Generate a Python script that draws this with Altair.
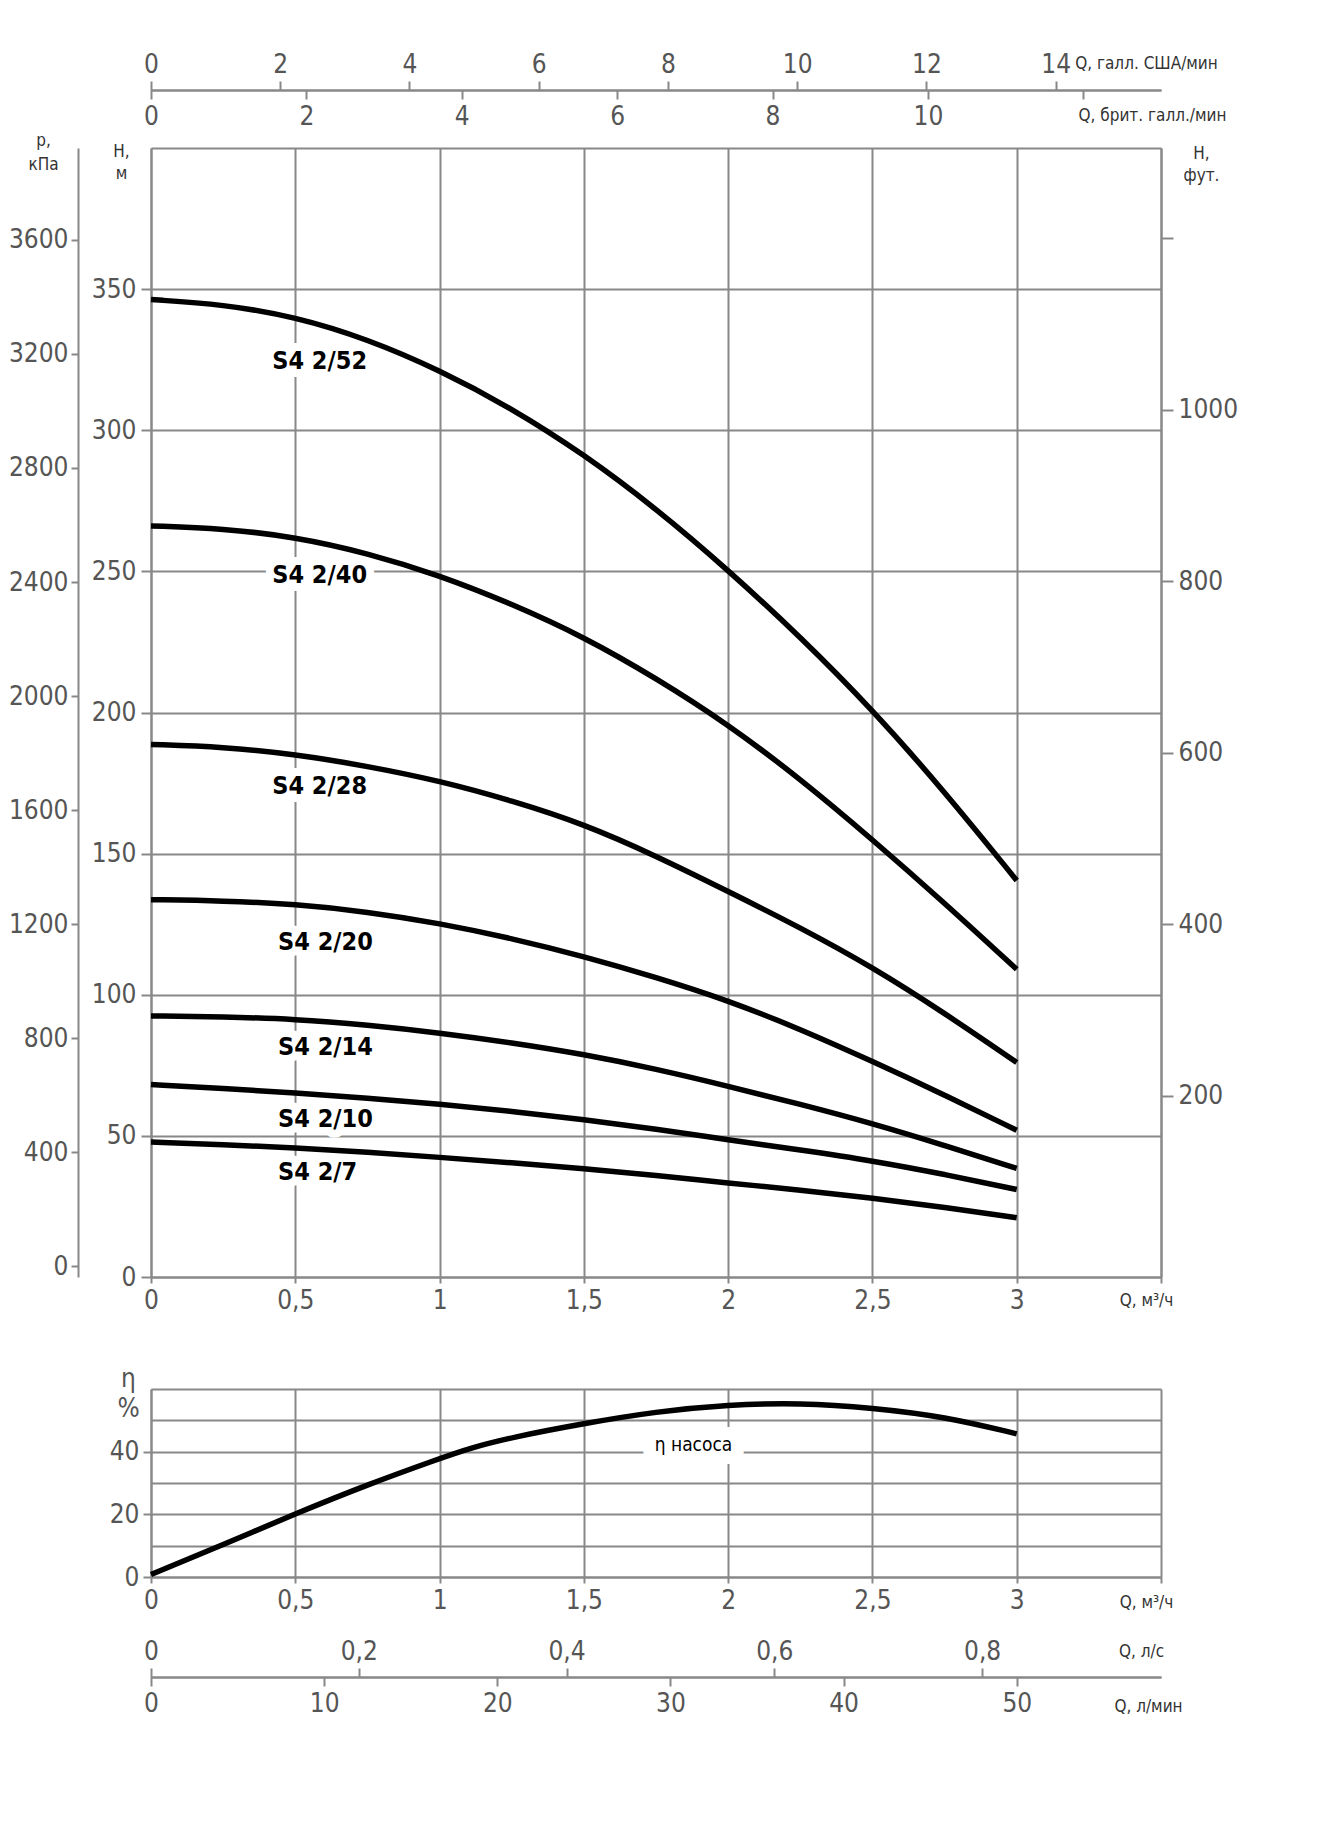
import altair as alt
import pandas as pd

# ---------------- data ----------------
Q = [0, 0.25, 0.5, 0.75, 1.0, 1.25, 1.5, 1.75, 2.0, 2.25, 2.5, 2.75, 3.0]
models = ["S4 2/52", "S4 2/40", "S4 2/28", "S4 2/20", "S4 2/14", "S4 2/10", "S4 2/7"]
H_52 = [346.3, 344.6, 340.2, 332.3, 321.3, 307.8, 291.5, 272.3, 250.5, 226.8, 201.0, 172.0, 140.5]
H_40 = [266.1, 265.2, 262.2, 256.5, 248.6, 238.5, 226.8, 212.2, 195.8, 176.5, 155.0, 132.5, 109.0]
H_28 = [188.7, 187.8, 185.2, 181.0, 175.8, 168.8, 160.5, 149.2, 136.6, 123.8, 109.8, 93.5, 76.0]
H_20 = [133.7, 133.3, 132.1, 129.4, 125.3, 120.0, 113.6, 106.2, 98.0, 87.8, 76.4, 64.5, 52.0]
H_14 = [92.5, 92.2, 91.4, 89.3, 86.5, 83.0, 78.9, 73.7, 67.6, 61.2, 54.4, 46.6, 38.5]
H_10 = [68.2, 66.8, 65.2, 63.4, 61.3, 58.7, 55.8, 52.4, 48.6, 45.0, 41.2, 36.4, 31.0]
H_7 = [47.8, 46.9, 45.8, 44.2, 42.4, 40.5, 38.4, 36.0, 33.3, 30.8, 28.0, 24.7, 21.0]
H_all = [H_52, H_40, H_28, H_20, H_14, H_10, H_7]

label_q = [0.42, 0.42, 0.42, 0.44, 0.44, 0.44, 0.44]
label_h = [324.4, 248.6, 174.0, 118.7, 81.4, 55.9, 37.3]

eta_q = [0, 0.25, 0.5, 0.75, 1.0, 1.1, 1.25, 1.5, 1.75, 2.0, 2.25, 2.5, 2.75, 3.0]
eta = [0.8, 10.3, 20.2, 29.5, 37.8, 41.0, 44.6, 49.0, 52.8, 55.0, 55.6, 54.0, 51.2, 45.7]
eta_label = ["η насоса"]
eta_label_q = [1.88]
eta_label_v = [42.0]

q_ticks = [0, 0.5, 1, 1.5, 2, 2.5, 3, 3.5]
h_ticks = [0, 50, 100, 150, 200, 250, 300, 350, 400]
kpa_ticks = [0, 400, 800, 1200, 1600, 2000, 2400, 2800, 3200, 3600]
ft_ticks = [200, 400, 600, 800, 1000, 1200]
eta_ticks = [0, 10, 20, 30, 40, 50, 60]
us_ticks = [0, 2, 4, 6, 8, 10, 12, 14]
imp_ticks = [0, 2, 4, 6, 8, 10, 12]
ls_ticks = [0, 0.2, 0.4, 0.6, 0.8]
lmin_ticks = [0, 10, 20, 30, 40, 50]

q_max = 3.5
h_max = 400
kpa_domain = [-37, 3922]
ft_domain = [-11, 1305]
eta_max = 60
us_max = 15.63
imp_max = 13.0
ls_max = 0.9722
lmin_max = 58.33

# ---------------- layout (pixels inside the single plot area) ----------------
W = 1010
TOTAL_H = 1587
MAIN_TOP, MAIN_BOT = 58, 1187
EFF_TOP, EFF_BOT = 1299, 1487

# ---------------- tables ----------------
curve_df = pd.DataFrame(
    [{"model": m, "Q": q, "H": h} for m, hs_ in zip(models, H_all) for q, h in zip(Q, hs_)]
)
label_df = pd.DataFrame({"model": models, "Q": label_q, "H": label_h})
eta_df = pd.DataFrame({"Q": eta_q, "eta": eta})
eta_lab_df = pd.DataFrame({"txt": eta_label, "Q": eta_label_q, "eta": eta_label_v})
grid_df = pd.DataFrame({"Q": q_ticks, "g": [0] * len(q_ticks)})

FONT = "Liberation Sans Narrow, Arial Narrow, DejaVu Sans Condensed, sans-serif"
comma_q = "datum.value == 3.5 ? '' : replace(toString(datum.value), '.', ',')"
comma = "replace(toString(datum.value), '.', ',')"


def qs():
    return alt.Scale(domain=[0, q_max], nice=False, zero=False)


def hs():
    return alt.Scale(domain=[0, h_max], range=[MAIN_BOT, MAIN_TOP], nice=False, zero=False)


def es():
    return alt.Scale(domain=[0, eta_max], range=[EFF_BOT, EFF_TOP], nice=False, zero=False)


# ---- main panel: x axis + vertical grid (grid band mirrored, as Vega draws it) ----
x_axis = alt.Axis(
    orient="bottom", offset=MAIN_BOT - TOTAL_H,
    values=q_ticks, grid=True, labelExpr=comma_q, tickSize=6, labelPadding=4,
    title="Q, м³/ч", titleX=995, titleY=23, titleAlign="center",
    titleBaseline="middle", titleAngle=0,
)
main_x = alt.Chart(grid_df).mark_point(opacity=0).encode(
    x=alt.X("Q:Q", scale=qs(), axis=x_axis),
    y=alt.Y("g:Q", scale=alt.Scale(domain=[0, 1], range=[TOTAL_H - MAIN_TOP, TOTAL_H - MAIN_BOT],
                                   nice=False, zero=False), axis=None),
)

y_axis = alt.Axis(
    orient="left", values=h_ticks, grid=True, tickSize=10, labelPadding=5,
    labelExpr="datum.value == 400 ? '' : datum.label",
    tickOpacity={"condition": {"test": "datum.value == 400", "value": 0}, "value": 1},
    title=["H,", "м"], titleAngle=0, titleX=-30, titleY=MAIN_TOP - 5, titleAlign="center",
    titleBaseline="top", titleLineHeight=22,
)

curves = alt.Chart(curve_df).mark_line(
    color="black", strokeWidth=5.5, interpolate="basis"
).encode(
    x=alt.X("Q:Q", scale=qs(), axis=None),
    y=alt.Y("H:Q", scale=hs(), axis=y_axis),
    detail="model:N",
)

halo = alt.Chart(label_df).mark_text(
    align="left", baseline="middle", font=FONT, fontSize=25, fontWeight="bold",
    fill="white", stroke="white", strokeWidth=16, strokeJoin="round",
).encode(
    x=alt.X("Q:Q", scale=qs(), axis=None),
    y=alt.Y("H:Q", scale=hs(), axis=None),
    text="model:N",
)

labels = alt.Chart(label_df).mark_text(
    align="left", baseline="middle", font=FONT, fontSize=25, fontWeight="bold", color="black",
).encode(
    x=alt.X("Q:Q", scale=qs(), axis=None),
    y=alt.Y("H:Q", scale=hs(), axis=None),
    text="model:N",
)

kpa_layer = alt.Chart(pd.DataFrame({"kPa": kpa_ticks})).mark_point(opacity=0).encode(
    x=alt.value(0),
    y=alt.Y("kPa:Q",
            scale=alt.Scale(domain=kpa_domain, range=[MAIN_BOT, MAIN_TOP], nice=False, zero=False),
            axis=alt.Axis(orient="left", offset=73, values=kpa_ticks, format="d", grid=False,
                          tickSize=7, labelPadding=3, title=["p,", "кПа"], titleAngle=0,
                          titleX=-35, titleY=MAIN_TOP - 16, titleAlign="center",
                          titleBaseline="top", titleLineHeight=24)),
)

ft_layer = alt.Chart(pd.DataFrame({"ft": ft_ticks})).mark_point(opacity=0).encode(
    x=alt.value(0),
    y=alt.Y("ft:Q",
            scale=alt.Scale(domain=ft_domain, range=[MAIN_BOT, MAIN_TOP], nice=False, zero=False),
            axis=alt.Axis(orient="right", values=ft_ticks, format="d", grid=False,
                          tickSize=12, labelPadding=5,
                          labelExpr="datum.value == 1200 ? '' : datum.label",
                          title=["H,", "фут."], titleAngle=0, titleX=40, titleY=MAIN_TOP - 3,
                          titleAlign="center", titleBaseline="top", titleLineHeight=22)),
)

# ---------------- efficiency panel ----------------
x_axis_e = alt.Axis(
    orient="bottom", offset=EFF_BOT - TOTAL_H,
    values=q_ticks, grid=True, labelExpr=comma_q, tickSize=6, labelPadding=4,
    title="Q, м³/ч", titleX=995, titleY=25, titleAlign="center",
    titleBaseline="middle", titleAngle=0,
)
eff_x = alt.Chart(grid_df).mark_point(opacity=0).encode(
    x=alt.X("Q:Q", scale=qs(), axis=x_axis_e),
    y=alt.Y("g:Q", scale=alt.Scale(domain=[0, 1], range=[TOTAL_H - EFF_TOP, TOTAL_H - EFF_BOT],
                                   nice=False, zero=False), axis=None),
)

y_axis_e = alt.Axis(
    orient="left", values=eta_ticks, grid=True, tickSize=8, labelPadding=4,
    labelExpr="datum.value % 20 == 0 && datum.value < 60 ? datum.label : ''",
    tickOpacity={"condition": {"test": "datum.value % 20 == 0 && datum.value < 60", "value": 1},
                 "value": 0},
    title=["η", "%"], titleAngle=0, titleX=-23, titleY=EFF_TOP - 24, titleAlign="center",
    titleBaseline="top", titleLineHeight=30, titleFontSize=26, titleColor="#555",
)

eta_halo = alt.Chart(eta_lab_df).mark_text(
    align="center", baseline="middle", font=FONT, fontSize=19,
    fill="white", stroke="white", strokeWidth=26, strokeJoin="round",
).encode(
    x=alt.X("Q:Q", scale=qs(), axis=None),
    y=alt.Y("eta:Q", scale=es(), axis=None),
    text="txt:N",
)
eta_line = alt.Chart(eta_df).mark_line(
    color="black", strokeWidth=5.5, interpolate="basis"
).encode(
    x=alt.X("Q:Q", scale=qs(), axis=None),
    y=alt.Y("eta:Q", scale=es(), axis=y_axis_e),
)
eta_text = alt.Chart(eta_lab_df).mark_text(
    align="center", baseline="middle", font=FONT, fontSize=19, color="black",
).encode(
    x=alt.X("Q:Q", scale=qs(), axis=None),
    y=alt.Y("eta:Q", scale=es(), axis=None),
    text="txt:N",
)


# ---------------- extra flow axes ----------------
def flow_axis(field, ticks, dmax, orient, offset, title, tx, ty, label_expr=None):
    kw = dict(orient=orient, offset=offset, values=ticks, grid=False, tickSize=9,
              labelPadding=4, title=title, titleX=tx, titleY=ty, titleAlign="center",
              titleBaseline="middle", titleAngle=0)
    kw["labelExpr"] = label_expr if label_expr else comma
    return alt.Chart(pd.DataFrame({field: ticks})).mark_point(opacity=0).encode(
        x=alt.X(f"{field}:Q", scale=alt.Scale(domain=[0, dmax], nice=False, zero=False),
                axis=alt.Axis(**kw)),
        y=alt.value(0),
    )


us_layer = flow_axis("us", us_ticks, us_max, "top", 0, "Q, галл. США/мин", 995, -27)
imp_layer = flow_axis("imp", imp_ticks, imp_max, "bottom", -TOTAL_H, "Q, брит. галл./мин",
                      1001, 25, "datum.value == 12 ? '' : datum.label")
ls_layer = flow_axis("ls", ls_ticks, ls_max, "top", -TOTAL_H, "Q, л/с", 990, -26)
lmin_layer = flow_axis("lmin", lmin_ticks, lmin_max, "bottom", 0, "Q, л/мин", 997, 29)

chart = alt.layer(
    main_x, halo, curves, labels, kpa_layer, ft_layer,
    eff_x, eta_halo, eta_line, eta_text,
    us_layer, imp_layer, ls_layer, lmin_layer,
).resolve_scale(x="independent", y="independent").properties(
    width=W, height=TOTAL_H,
    padding={"left": 0, "top": 43, "right": 5, "bottom": 5},
    background="white",
).configure_axis(
    labelFont=FONT, labelFontSize=26, labelColor="#555", labelFlush=False,
    domainColor="#888", domainWidth=2, tickColor="#888", tickWidth=2,
    gridColor="#888", gridWidth=2,
    titleFont=FONT, titleFontSize=17, titleFontWeight="normal", titleColor="#333",
).configure_view(stroke="transparent")

chart.save("out.html", embed_options={"renderer": "svg", "actions": False})
